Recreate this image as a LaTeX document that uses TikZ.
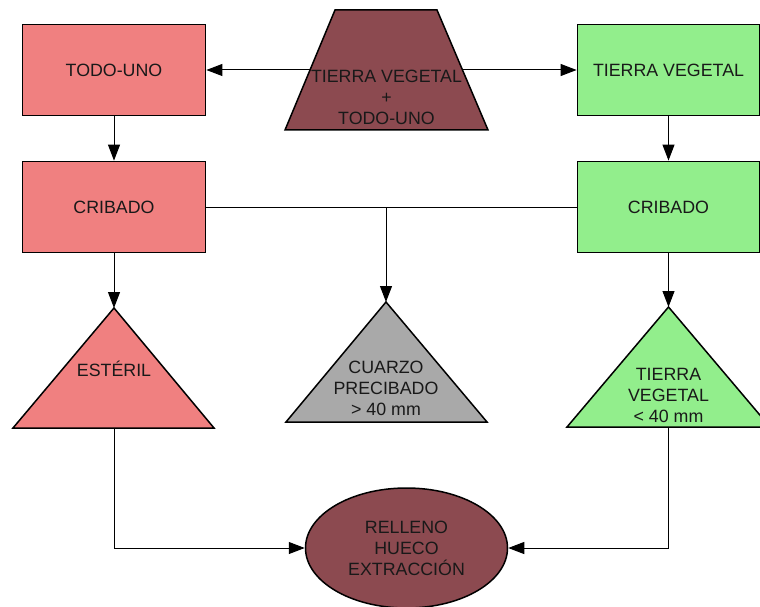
\documentclass[tikz,border=0pt]{standalone}
\usepackage{fontspec}
\setmainfont{Liberation Sans}
\usetikzlibrary{arrows.meta,shapes.geometric}
\definecolor{pinkfill}{RGB}{240,128,128}
\definecolor{greenfill}{RGB}{146,238,140}
\definecolor{brownfill}{RGB}{140,74,80}
\definecolor{grayfill}{RGB}{169,169,169}
\definecolor{txt}{RGB}{25,25,25}
\begin{document}
\begin{tikzpicture}[x=1pt,y=-1pt,
  every node/.style={font=\fontsize{17.8}{21}\selectfont, text=txt, align=center},
  box/.style={draw, line width=1.8pt, minimum width=183pt, minimum height=91pt, inner sep=0pt},
  shp/.style={draw, line width=1.5pt, line join=miter},
  conn/.style={line width=1pt},
  arr/.style={conn, -{Triangle[length=16pt,width=12pt]}},
  lbl/.style={inner sep=0pt}
]
\useasboundingbox (0,0) rectangle (760,607);
\clip (0,0) rectangle (760,607);

% boxes
\node[box, fill=pinkfill] (todo) at (114,70) {TODO-UNO};
\node[box, fill=pinkfill] (cribL) at (114,207) {CRIBADO};
\node[box, fill=greenfill, minimum width=182pt] (tv) at (668.5,70) {TIERRA VEGETAL};
\node[box, fill=greenfill, minimum width=182pt] (cribR) at (668.5,207) {CRIBADO};

% trapezoid
\draw[shp, fill=brownfill] (335,10) -- (437,10) -- (488,130) -- (285,130) -- cycle;
\node[lbl] (mix) at (386.5,97) {TIERRA VEGETAL\\+\\TODO-UNO};
\coordinate (mixL) at (310,70);
\coordinate (mixR) at (462.5,70);

% triangles
\draw[shp, fill=pinkfill] (114,308) -- (214,428) -- (13,428) -- cycle;
\coordinate (estTop) at (114,308);
\coordinate (estBot) at (114,428);
\node[lbl] (est) at (114,369) {ESTÉRIL};

\draw[shp, fill=grayfill] (386,302) -- (487,422) -- (286,422) -- cycle;
\coordinate (grayTop) at (386,302);
\node[lbl] (quartz) at (386,388) {CUARZO\\PRECIBADO\\> 40 mm};

\draw[shp, fill=greenfill] (668.5,307) -- (770,427) -- (567,427) -- cycle;
\coordinate (greenTop) at (668.5,307);
\coordinate (greenBot) at (668.5,427);
\node[lbl] (soil) at (668.5,395) {TIERRA\\VEGETAL\\< 40 mm};

% ellipse
\node[shp, ellipse, fill=brownfill, minimum width=202pt, minimum height=120pt, inner sep=0pt] (fill) at (406.5,548) {RELLENO\\HUECO\\EXTRACCIÓN};

% connectors
\draw[arr] (mixL) -- (todo.east);
\draw[arr] (mixR) -- (tv.west);
\draw[arr] (todo.south) -- (cribL.north);
\draw[arr] (tv.south) -- (cribR.north);
\draw[conn] (cribL.east) -- (cribR.west);
\coordinate (branch) at (386,207);
\draw[arr] (branch) -- (grayTop);
\draw[arr] (cribL.south) -- (estTop);
\draw[arr] (cribR.south) -- (greenTop);
\draw[arr] (estBot) |- (fill.west);
\draw[arr] (greenBot) |- (fill.east);
\end{tikzpicture}
\end{document}
